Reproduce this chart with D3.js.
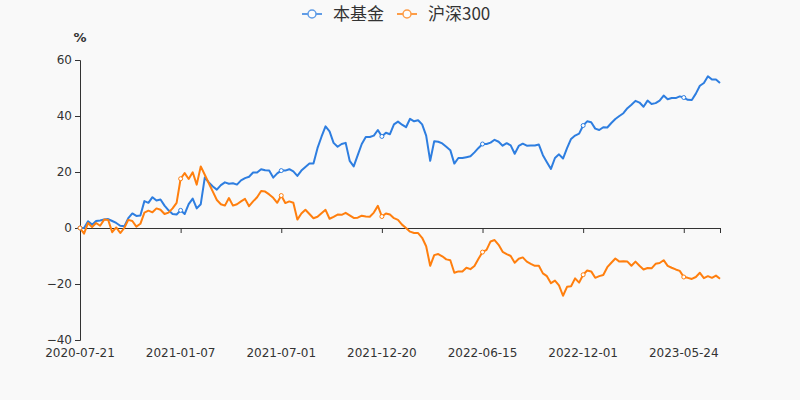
<!DOCTYPE html>
<html>
<head>
<meta charset="utf-8">
<script src="https://cdn.jsdelivr.net/npm/d3@7/dist/d3.min.js"></script>
<style>
  html, body { margin: 0; padding: 0; background: #f9f9f9; }
  text { font-family: "Noto Sans CJK SC", "Noto Sans", sans-serif; }
  .axis-label { font-family: "DejaVu Sans", sans-serif; }
</style>
</head>
<body>
<div id="chart"></div>
<script>
const seriesNames = ['本基金', '沪深300'];
const tickLabels = ['2020-07-21', '2021-01-07', '2021-07-01', '2021-12-20', '2022-06-15', '2022-12-01', '2023-05-24'];
const yTicks = [-40, -20, 0, 20, 40, 60];

const fundValues = [
    0, 0, 2.4, 1.2, 2.5, 2.7, 3.0, 3.2, 2.5, 1.8,
    0.8, 0.6, 3.5, 5.2, 4.3, 4.5, 9.6, 9.0, 11.0, 9.8,
    10.2, 8.0, 6.3, 5.0, 4.8, 6.3, 5.0, 8.5, 10.5, 7.0,
    8.5, 18.0, 16.3, 14.8, 13.7, 15.3, 16.3, 15.8, 16.0, 15.5,
    17.0, 17.8, 18.3, 19.8, 19.8, 21.0, 20.6, 20.5, 18.0, 19.5,
    20.5, 20.5, 21.0, 20.2, 18.6, 20.5, 21.8, 23.0, 23.0, 28.5,
    32.6, 36.3, 34.5, 30.4, 29.0, 30.0, 30.4, 24.0, 22.0, 26.0,
    30.0, 32.5, 32.5, 33.0, 35.0, 32.7, 34.0, 33.5, 37.0, 38.0,
    36.9, 36.0, 39.0, 38.1, 38.5, 37.0, 33.0, 24.0, 31.0, 30.8,
    30.2, 29.0, 27.8, 23.0, 25.0, 25.0, 25.3, 25.6, 27.0, 28.6,
    30.0, 30.0, 30.5, 31.5, 30.8, 29.4, 30.3, 29.5, 26.5, 29.3,
    30.1, 29.4, 29.5, 29.5, 29.8, 26.0, 23.5, 21.1, 25.0, 26.3,
    24.8, 28.5, 31.8, 33.0, 33.7, 36.6, 38.1, 37.8, 35.5, 35.0,
    36.0, 35.9, 37.5, 38.9, 40.0, 41.0, 42.8, 44.0, 45.4, 44.8,
    43.3, 45.5, 44.3, 44.6, 45.5, 47.3, 46.0, 46.4, 46.4, 47.0,
    46.6, 45.8, 45.7, 48.0, 50.8, 51.8, 54.2, 53.0, 53.0, 51.8
];

const indexValues = [
    0, -2.0, 1.8, 0.3, 1.8, 0.8, 3.0, 2.9, -1.5, 0.2,
    -1.8, 0, 2.9, 2.5, 0.5, 1.5, 5.5, 6.2, 5.6, 7.0,
    6.5, 5.0, 5.5, 7.0, 9.0, 17.6, 19.6, 17.5, 19.9, 15.5,
    22.0, 19.0, 16.0, 13.0, 10.0, 8.5, 8.0, 10.7, 8.0, 8.5,
    9.5, 10.4, 7.8, 9.5, 11.0, 13.2, 13.0, 12.0, 10.8, 9.0,
    11.6, 8.9, 9.5, 9.0, 3.0, 5.2, 6.5, 5.0, 3.5, 4.0,
    5.3, 6.5, 3.3, 4.0, 4.8, 4.7, 5.4, 4.5, 3.6, 3.7,
    4.4, 4.1, 4.0, 5.5, 7.9, 4.1, 5.2, 4.8, 3.5, 2.9,
    1.2, 0.0, -1.3, -1.8, -1.8, -3.5, -6.5, -13.5, -9.7, -9.3,
    -10.1, -11.2, -11.5, -16.0, -15.5, -15.5, -14.2, -14.7, -13.6, -11.0,
    -8.6, -7.8, -4.8, -4.3, -6.0, -8.5, -9.3, -10.0, -12.4, -11.0,
    -10.5, -12.0, -12.8, -13.5, -13.5, -16.2, -17.2, -19.7, -18.8, -20.5,
    -24.2, -21.0, -20.8, -18.0, -19.5, -16.7, -15.2, -15.5, -17.8, -17.2,
    -16.8, -14.0, -12.4, -10.9, -12.0, -11.9, -12.0, -13.5, -12.0, -13.5,
    -14.8, -14.3, -14.4, -12.8, -12.5, -11.5, -13.5, -14.2, -14.8, -15.3,
    -17.5, -17.8, -18.2, -17.5, -16.0, -17.9, -17.2, -17.8, -17.0, -18.1
];

const labelEvery = 25; // one date label every 25 samples

function drawChart() {
    const width = 800, height = 400;
    const margin = { top: 60, right: 80, bottom: 60, left: 80 };
    const colours = ['#2e7ee0', '#ff7f0e'];
    const axisColour = '#333';

    const svg = d3.select('#chart')
        .append('svg')
        .attr('width', width)
        .attr('height', height);

    svg.append('rect')
        .attr('width', width)
        .attr('height', height)
        .attr('fill', '#f9f9f9');

    const n = fundValues.length;
    const x = d3.scaleLinear()
        .domain([0, n - 1])
        .range([margin.left, width - margin.right]);

    const y = d3.scaleLinear()
        .domain([d3.min(yTicks), d3.max(yTicks)])
        .range([height - margin.bottom, margin.top]);

    // y axis, ticks pointing left
    const yAxis = svg.append('g')
        .attr('transform', `translate(${margin.left},0)`)
        .call(d3.axisLeft(y).tickValues(yTicks).tickSize(5).tickPadding(3));
    yAxis.select('.domain').attr('stroke', axisColour);
    yAxis.selectAll('.tick line').attr('stroke', axisColour);
    yAxis.selectAll('.tick text')
        .attr('class', 'axis-label')
        .attr('fill', '#333')
        .style('font-size', '12px');

    svg.append('text')
        .attr('class', 'axis-label')
        .attr('x', margin.left)
        .attr('y', 42)
        .attr('text-anchor', 'middle')
        .attr('fill', '#333')
        .style('font-size', '13px')
        .style('font-weight', 'bold')
        .text('%');

    // x axis line sits on zero, labels stay at the bottom
    const tickIdx = tickLabels.map((d, i) => i * labelEvery);
    const xAxis = svg.append('g')
        .attr('transform', `translate(0,${y(0)})`)
        .call(d3.axisBottom(x).tickValues(tickIdx.concat([n - 1])).tickSize(5).tickFormat(''));
    xAxis.select('.domain').attr('stroke', axisColour);
    xAxis.selectAll('.tick line').attr('stroke', axisColour);

    svg.append('g')
        .selectAll('text')
        .data(tickLabels)
        .enter()
        .append('text')
        .attr('class', 'axis-label')
        .attr('x', (d, i) => x(tickIdx[i]))
        .attr('y', height - margin.bottom + 17)
        .attr('text-anchor', 'middle')
        .attr('fill', '#333')
        .style('font-size', '12px')
        .text(d => d);

    const line = d3.line()
        .x((d, i) => x(i))
        .y(d => y(d));

    const allSeries = [fundValues, indexValues];
    allSeries.forEach((values, s) => {
        svg.append('path')
            .datum(values)
            .attr('fill', 'none')
            .attr('stroke', colours[s])
            .attr('stroke-width', 2)
            .attr('stroke-linejoin', 'round')
            .attr('d', line);
    });

    // small hollow markers at the labelled samples
    allSeries.forEach((values, s) => {
        svg.append('g')
            .selectAll('circle')
            .data(tickIdx)
            .enter()
            .append('circle')
            .attr('cx', d => x(d))
            .attr('cy', d => y(values[d]))
            .attr('r', 2)
            .attr('fill', '#fff')
            .attr('stroke', colours[s])
            .attr('stroke-width', 1);
    });

    // legend
    const legend = svg.append('g');
    const legendX = [302, 397];
    seriesNames.forEach((name, s) => {
        const g = legend.append('g')
            .attr('transform', `translate(${legendX[s]},14)`)
            .style('opacity', 0.75);
        g.append('line')
            .attr('x1', 0).attr('x2', 20)
            .attr('stroke', colours[s])
            .attr('stroke-width', 2);
        g.append('circle')
            .attr('cx', 10)
            .attr('r', 4)
            .attr('fill', '#fff')
            .attr('stroke', colours[s])
            .attr('stroke-width', 1.5);
        legend.append('text')
            .attr('x', legendX[s] + 31)
            .attr('y', 14)
            .attr('dy', '0.35em')
            .attr('fill', '#333')
            .style('font-size', '17px')
            .text(name);
    });
}

drawChart();
</script>
</body>
</html>
